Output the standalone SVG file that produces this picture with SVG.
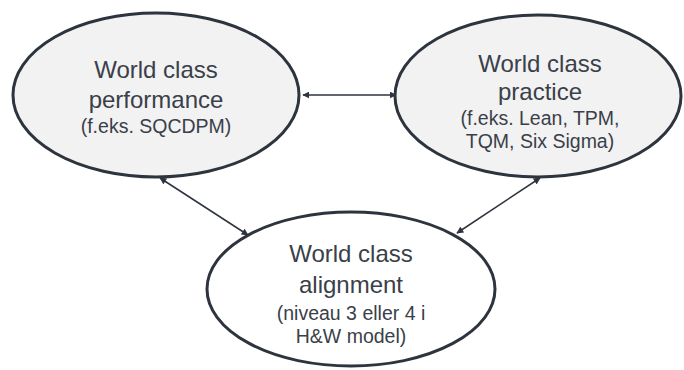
<svg xmlns="http://www.w3.org/2000/svg" width="684" height="370" viewBox="0 0 684 370">
  <style>
    .node ellipse { stroke: #2e343e; stroke-width: 3; }
    .t { font-family: "Liberation Sans", Arial, sans-serif; fill: #3a404a; text-anchor: middle; }
    .big { font-size: 24px; }
    .small { font-size: 19.5px; }
    .conn line { stroke: #2e343e; stroke-width: 1.5; }
  </style>
  <defs>
    <marker id="ah" viewBox="0 0 10 10" refX="9" refY="5" markerWidth="7" markerHeight="7" orient="auto-start-reverse" markerUnits="userSpaceOnUse">
      <path d="M0,0 L10,5 L0,10 z" fill="#2e343e"/>
    </marker>
  </defs>
  <rect width="684" height="370" fill="#ffffff"/>
  <g id="connectors" class="conn">
    <line x1="303" y1="95" x2="396" y2="95" marker-start="url(#ah)" marker-end="url(#ah)"/>
    <line x1="160" y1="178" x2="248" y2="235" marker-start="url(#ah)" marker-end="url(#ah)"/>
    <line x1="540" y1="178" x2="457" y2="233" marker-start="url(#ah)" marker-end="url(#ah)"/>
  </g>
  <g id="performance" class="node">
    <ellipse cx="156" cy="95" rx="143" ry="82" fill="#f2f2f2"/>
    <text class="t big" x="156" y="78">World class</text>
    <text class="t big" x="156" y="108">performance</text>
    <text class="t small" x="156" y="133">(f.eks. SQCDPM)</text>
  </g>
  <g id="practice" class="node">
    <ellipse cx="538" cy="96" rx="143" ry="81" fill="#f2f2f2"/>
    <text class="t big" x="540" y="72">World class</text>
    <text class="t big" x="540" y="100">practice</text>
    <text class="t small" x="540" y="125">(f.eks. Lean, TPM,</text>
    <text class="t small" x="540" y="148">TQM, Six Sigma)</text>
  </g>
  <g id="alignment" class="node">
    <ellipse cx="351" cy="289" rx="144" ry="77" fill="#ffffff"/>
    <text class="t big" x="351" y="262">World class</text>
    <text class="t big" x="351" y="293">alignment</text>
    <text class="t small" x="351" y="320">(niveau 3 eller 4 i</text>
    <text class="t small" x="351" y="343">H&amp;W model)</text>
  </g>
</svg>
